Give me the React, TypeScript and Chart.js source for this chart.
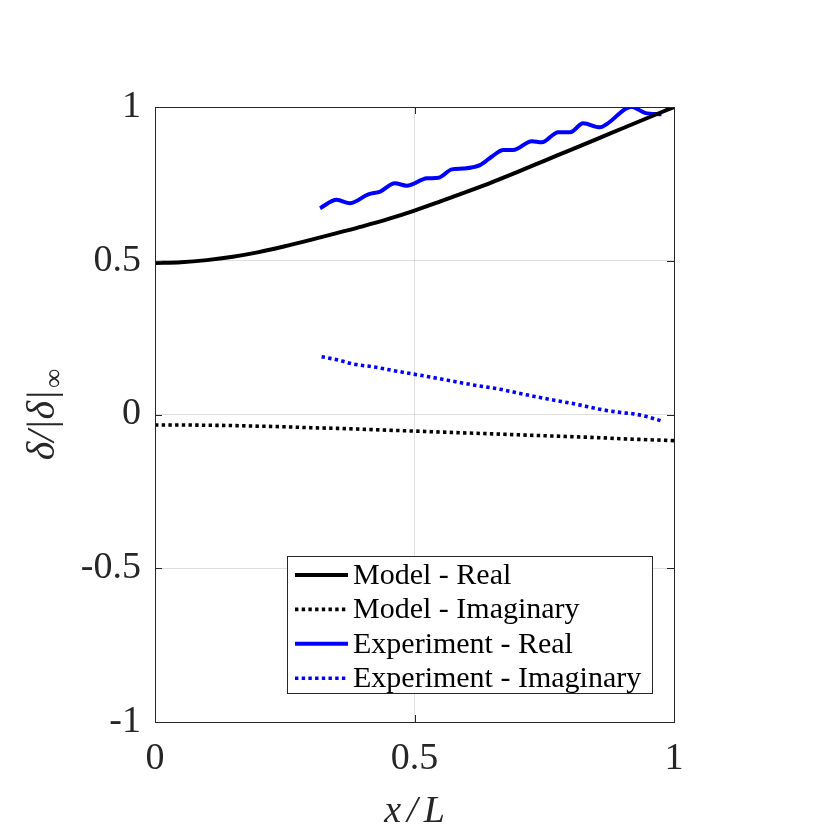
import React, { useEffect, useRef } from 'react';
import { Chart, registerables } from 'chart.js';

Chart.register(...registerables);

// ---- data ----
const modelX = [0, 0.05, 0.1, 0.15, 0.2, 0.25, 0.3, 0.35, 0.4, 0.45, 0.5, 0.55, 0.6, 0.65, 0.7, 0.75, 0.8, 0.85, 0.9, 0.95, 1.0];
const modelReal = [0.493, 0.495, 0.502, 0.513, 0.528, 0.547, 0.568, 0.590, 0.612, 0.636, 0.663, 0.693, 0.724, 0.756, 0.790, 0.825, 0.860, 0.895, 0.930, 0.965, 1.0];
const modelImag = [-0.034, -0.034, -0.035, -0.036, -0.038, -0.040, -0.043, -0.045, -0.048, -0.051, -0.054, -0.057, -0.060, -0.063, -0.066, -0.069, -0.072, -0.075, -0.079, -0.082, -0.085];

const expRealX = [0.318, 0.350, 0.376, 0.411, 0.434, 0.462, 0.485, 0.524, 0.546, 0.572, 0.594, 0.626, 0.650, 0.671, 0.690, 0.726, 0.745, 0.777, 0.800, 0.825, 0.857, 0.870, 0.918, 0.944, 0.976];
const expReal = [0.671, 0.698, 0.687, 0.716, 0.725, 0.752, 0.744, 0.768, 0.770, 0.797, 0.800, 0.811, 0.840, 0.860, 0.860, 0.889, 0.885, 0.918, 0.918, 0.947, 0.934, 0.944, 1.001, 0.981, 0.976];

const expImagX = [0.321, 0.345, 0.360, 0.382, 0.420, 0.472, 0.520, 0.556, 0.610, 0.665, 0.710, 0.761, 0.810, 0.857, 0.900, 0.922, 0.950, 0.976];
const expImag = [0.188, 0.180, 0.174, 0.164, 0.155, 0.139, 0.125, 0.114, 0.097, 0.082, 0.066, 0.049, 0.034, 0.017, 0.006, 0.002, -0.008, -0.021];

const xTicks = [0, 0.5, 1];
const yTicks = [-1, -0.5, 0, 0.5, 1];
const seriesNames = ['Model - Real', 'Model - Imaginary', 'Experiment - Real', 'Experiment - Imaginary'];
const xTitle = ['x', '/', 'L'];
const yTitleMain = 'δ/|δ|';
const yTitleSub = '∞';

// ---- styles ----
const AXIS = '#262626';
const GRID = 'rgba(38,38,38,0.15)';
const SERIF = "'Liberation Serif', 'DejaVu Serif', serif";
const SOLID_W = 4;
const DOT_W = 3.6;
const DOT_DASH = [3.4, 3.3];

const toPts = (xs: number[], ys: number[]) => xs.map((x, i) => ({ x, y: ys[i] }));

const matlabPlugin = {
  id: 'matlabAxes',
  afterDatasetsDraw(chart: any) {
    const { ctx, chartArea: a, scales } = chart;
    ctx.save();
    // inward ticks
    ctx.strokeStyle = AXIS;
    ctx.lineWidth = 1;
    ctx.setLineDash([]);
    ctx.beginPath();
    const tl = 7;
    for (const t of xTicks) {
      const px = Math.round(scales.x.getPixelForValue(t)) + 0.5;
      ctx.moveTo(px, a.bottom);
      ctx.lineTo(px, a.bottom - tl);
      ctx.moveTo(px, a.top);
      ctx.lineTo(px, a.top + tl);
    }
    for (const t of yTicks) {
      const py = Math.round(scales.y.getPixelForValue(t)) + 0.5;
      ctx.moveTo(a.left, py);
      ctx.lineTo(a.left + tl, py);
      ctx.moveTo(a.right, py);
      ctx.lineTo(a.right - tl, py);
    }
    ctx.stroke();
    // box
    ctx.strokeRect(Math.round(a.left) + 0.5, Math.round(a.top) + 0.5, Math.round(a.right - a.left), Math.round(a.bottom - a.top));

    // legend
    const lx = a.left + 132;
    const ly = a.top + 449;
    const lw = 365;
    const lh = 137;
    ctx.fillStyle = '#ffffff';
    ctx.fillRect(lx, ly, lw, lh);
    ctx.strokeStyle = AXIS;
    ctx.lineWidth = 1;
    ctx.strokeRect(lx + 0.5, ly + 0.5, lw, lh);
    chart.data.datasets.forEach((ds: any, i: number) => {
      const ry = ly + 19 + i * 34.4;
      ctx.save();
      ctx.strokeStyle = ds.borderColor;
      ctx.lineWidth = ds.borderWidth;
      ctx.setLineDash(ds.borderDash || []);
      ctx.lineCap = 'butt';
      ctx.beginPath();
      ctx.moveTo(lx + 8, ry);
      ctx.lineTo(lx + 61, ry);
      ctx.stroke();
      ctx.restore();
      ctx.fillStyle = '#000000';
      ctx.font = `30px ${SERIF}`;
      ctx.textAlign = 'left';
      ctx.textBaseline = 'middle';
      ctx.fillText(ds.label, lx + 66, ry + 1);
    });

    // x title
    ctx.fillStyle = AXIS;
    ctx.font = `italic 38px ${SERIF}`;
    ctx.textBaseline = 'alphabetic';
    ctx.textAlign = 'left';
    const gap = 6;
    const widths = xTitle.map((s) => ctx.measureText(s).width);
    const total = widths.reduce((p, c) => p + c, 0) + gap * (xTitle.length - 1);
    let cx = (a.left + a.right) / 2 - total / 2;
    xTitle.forEach((s, i) => {
      ctx.fillText(s, cx, a.bottom + 100);
      cx += widths[i] + gap;
    });

    // y title
    ctx.save();
    ctx.translate(a.left - 101, (a.top + a.bottom) / 2);
    ctx.rotate(-Math.PI / 2);
    const mainFont = `italic 40px ${SERIF}`;
    const subFont = `27px ${SERIF}`;
    ctx.font = mainFont;
    const w1 = ctx.measureText(yTitleMain).width;
    ctx.font = subFont;
    const w2 = ctx.measureText(yTitleSub).width;
    const start = -(w1 + w2 + 2) / 2;
    ctx.font = mainFont;
    ctx.fillText(yTitleMain, start, 0);
    ctx.font = subFont;
    ctx.fillText(yTitleSub, start + w1 + 2, 8);
    ctx.restore();

    ctx.restore();
  },
};

export default function App() {
  const ref = useRef<HTMLCanvasElement | null>(null);

  useEffect(() => {
    if (!ref.current) return;
    const tickFont = { family: SERIF, size: 38 };
    const chart = new Chart(ref.current, {
      type: 'line',
      data: {
        datasets: [
          {
            label: seriesNames[0],
            data: toPts(modelX, modelReal),
            borderColor: '#000000',
            borderWidth: SOLID_W,
            pointRadius: 0,
            cubicInterpolationMode: 'monotone',
            fill: false,
          },
          {
            label: seriesNames[1],
            data: toPts(modelX, modelImag),
            borderColor: '#000000',
            borderWidth: DOT_W,
            borderDash: DOT_DASH,
            pointRadius: 0,
            cubicInterpolationMode: 'monotone',
            fill: false,
          },
          {
            label: seriesNames[2],
            data: toPts(expRealX, expReal),
            borderColor: '#0000ff',
            borderWidth: SOLID_W,
            pointRadius: 0,
            cubicInterpolationMode: 'monotone',
            fill: false,
          },
          {
            label: seriesNames[3],
            data: toPts(expImagX, expImag),
            borderColor: '#0000ff',
            borderWidth: DOT_W,
            borderDash: DOT_DASH,
            pointRadius: 0,
            cubicInterpolationMode: 'monotone',
            fill: false,
          },
        ] as any,
      },
      options: {
        animation: false,
        responsive: false,
        layout: { padding: { top: 107, left: 0, right: 156, bottom: 0 } },
        plugins: {
          legend: { display: false },
          tooltip: { enabled: false },
        },
        scales: {
          x: {
            type: 'linear',
            min: 0,
            max: 1,
            afterBuildTicks: (s: any) => {
              s.ticks = xTicks.map((v) => ({ value: v }));
            },
            afterFit: (s: any) => {
              s.height = 108;
            },
            grid: { color: GRID, lineWidth: 1, drawTicks: false },
            border: { display: false },
            ticks: {
              font: tickFont,
              color: AXIS,
              padding: 14,
              maxRotation: 0,
              autoSkip: false,
              callback: (v: any) => String(v),
            },
          },
          y: {
            type: 'linear',
            min: -1,
            max: 1,
            afterBuildTicks: (s: any) => {
              s.ticks = yTicks.map((v) => ({ value: v }));
            },
            afterFit: (s: any) => {
              s.width = 155;
            },
            grid: { color: GRID, lineWidth: 1, drawTicks: false },
            border: { display: false },
            ticks: {
              font: tickFont,
              color: AXIS,
              padding: 14,
              autoSkip: false,
              callback: (v: any) => String(v),
            },
          },
        },
      } as any,
      plugins: [matlabPlugin],
    });
    return () => chart.destroy();
  }, []);

  return (
    <div style={{ position: 'absolute', left: 0, top: 0, width: 830, height: 830, background: '#fff' }}>
      <canvas ref={ref} width={830} height={830} style={{ display: 'block' }} />
    </div>
  );
}
